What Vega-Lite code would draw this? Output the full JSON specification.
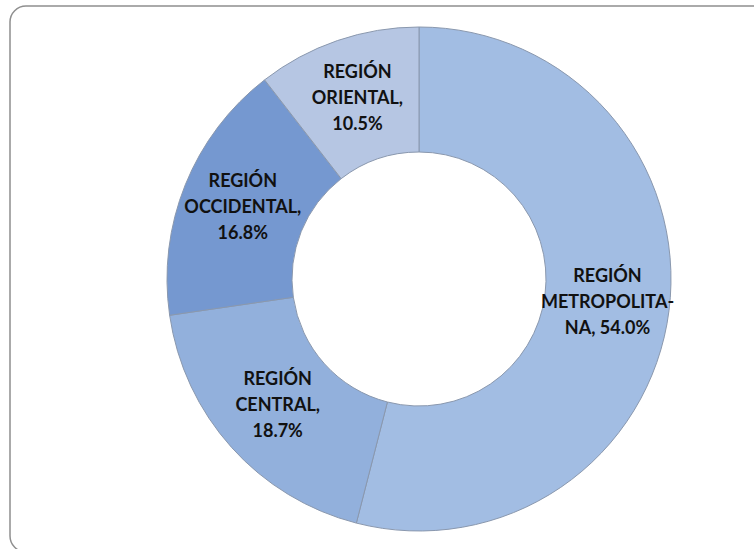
{
  "$schema": "https://vega.github.io/schema/vega-lite/v6.json",
  "width": 818,
  "height": 546,
  "autosize": {"type": "none"},
  "padding": {"left": 10, "top": 6, "right": -74, "bottom": -3},
  "background": "white",
  "view": {"stroke": "#8f8f8f", "strokeWidth": 1.5, "cornerRadius": 16, "fill": "white"},
  "data": {
    "values": [
      {"region": "REGIÓN METROPOLITANA", "pct": 54.0, "order": 1, "label": ["REGIÓN", "METROPOLITA-", "NA, 54.0%"]},
      {"region": "REGIÓN CENTRAL", "pct": 18.7, "order": 2, "label": ["REGIÓN", "CENTRAL,", "18.7%"]},
      {"region": "REGIÓN OCCIDENTAL", "pct": 16.8, "order": 3, "label": ["REGIÓN", "OCCIDENTAL,", "16.8%"]},
      {"region": "REGIÓN ORIENTAL", "pct": 10.5, "order": 4, "label": ["REGIÓN", "ORIENTAL,", "10.5%"]}
    ]
  },
  "encoding": {
    "theta": {"field": "pct", "type": "quantitative", "stack": true},
    "order": {"field": "order", "type": "quantitative"}
  },
  "layer": [
    {
      "mark": {"type": "arc", "outerRadius": 252, "innerRadius": 127, "stroke": "#8a98ae", "strokeWidth": 1},
      "encoding": {
        "color": {
          "field": "region",
          "type": "nominal",
          "scale": {
            "domain": ["REGIÓN METROPOLITANA", "REGIÓN CENTRAL", "REGIÓN OCCIDENTAL", "REGIÓN ORIENTAL"],
            "range": ["#a2bde3", "#92b0dc", "#7598d0", "#b6c6e3"]
          },
          "legend": null
        }
      }
    },
    {
      "mark": {"type": "text", "radius": 190, "dy": -26, "font": "Lato", "fontWeight": "bold", "fontSize": 18, "lineHeight": 26, "color": "#111111", "align": "center", "baseline": "middle"},
      "encoding": {
        "text": {"field": "label"}
      }
    }
  ]
}
